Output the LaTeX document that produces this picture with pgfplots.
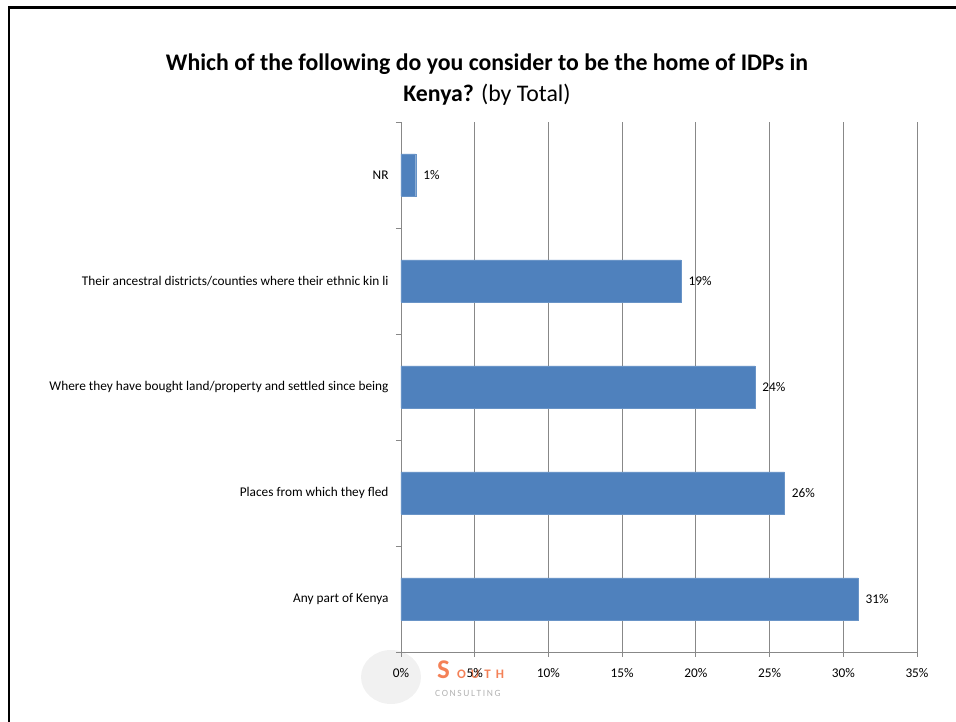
\documentclass[border=0pt]{standalone}
\usepackage{pgfplots}
\pgfplotsset{compat=1.18}
\usepackage{fontspec}
\setmainfont{Carlito}
\definecolor{barblue}{HTML}{4F81BD}
\definecolor{gridgray}{HTML}{888888}
\definecolor{logoorange}{HTML}{F26B3A}
\begin{document}
\begin{tikzpicture}[x=1pt,y=1pt]
\useasboundingbox (0,0) rectangle (956,722);
\draw[line width=2.6pt] (9,0) -- (9,714.5) -- (956,714.5);
% logo watermark
\fill[gray!11] (391,45) ellipse (30 and 27);
\node[anchor=base west, text=logoorange!85, inner sep=0, font=\fontsize{27}{27}\selectfont\bfseries] at (437,43) {S};
\node[anchor=base west, text=logoorange!85, inner sep=0, font=\fontsize{13}{13}\selectfont\bfseries] at (457,43) {O\hspace{5pt}U\hspace{5pt}T\hspace{5pt}H};
\node[anchor=base west, text=gray!60, inner sep=0, font=\fontsize{9.5}{9.5}\selectfont] at (435,25) {C\,O\,N\,S\,U\,L\,T\,I\,N\,G};
% title
\node[anchor=base, inner sep=0, font=\fontsize{23.8}{28}\selectfont\bfseries] at (487,651) {Which of the following do you consider to be the home of IDPs in};
\node[anchor=base, inner sep=0, font=\fontsize{23.8}{28}\selectfont] at (487,620.5) {\textbf{Kenya?} (by Total)};
\begin{axis}[
  at={(401pt,70pt)}, anchor=south west,
  scale only axis, width=516pt, height=530pt,
  xbar, bar width=0.4,
  xmin=0, xmax=35, xtick={0,5,...,35},
  /pgf/number format/assume math mode=true,
  xticklabel={\pgfmathprintnumber{\tick}\%},
  ymin=-0.5, ymax=4.5, ytick={0,...,4},
  yticklabels={Any part of Kenya, Places from which they fled, Where they have bought land/property and settled since being, Their ancestral districts/counties where their ethnic kin li, NR},
  minor ytick={-0.5,0.5,...,4.5},
  axis x line*=bottom, axis y line*=left,
  axis line style={draw=gridgray, line width=0.8pt},
  xmajorgrids, major grid style={draw=gridgray, line width=0.8pt},
  tick align=outside,
  major tick length=5pt, minor tick length=5pt,
  x tick style={draw=gridgray, line width=0.8pt},
  y tick style={draw=gridgray, line width=0.8pt},
  major y tick style={draw=none},
  ticklabel style={font=\fontsize{13.3}{16}\selectfont},
  yticklabel style={font=\fontsize{13.3}{16}\selectfont, xshift=-4pt},
  xticklabel style={yshift=-8pt},
  point meta=x,
  nodes near coords={\pgfmathprintnumber{\pgfplotspointmeta}\%},
  nodes near coords align={horizontal},
  every node near coord/.append style={font=\fontsize{13.3}{16}\selectfont, xshift=4pt},
  clip=false,
]
\addplot[fill=barblue, draw=barblue!85!white] coordinates {(31,0) (26,1) (24,2) (19,3) (1,4)};
\end{axis}
\end{tikzpicture}
\end{document}
